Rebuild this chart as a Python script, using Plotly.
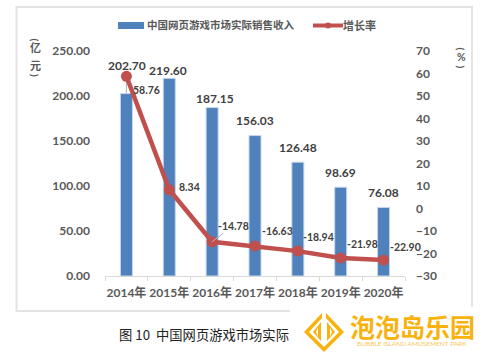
import plotly.graph_objects as go

years = ["2014年", "2015年", "2016年", "2017年", "2018年", "2019年", "2020年"]
revenue = [202.70, 219.60, 187.15, 156.03, 126.48, 98.69, 76.08]
growth = [58.76, 8.34, -14.78, -16.63, -18.94, -21.98, -22.90]
left_ticks = [0, 50, 100, 150, 200, 250]
right_ticks = [-30, -20, -10, 0, 10, 20, 30, 40, 50, 60, 70]
series_names = ["中国网页游戏市场实际销售收入", "增长率"]

W, H = 490, 357
L, R, T, B = 105, 405, 51, 276
FONT = "Lato, 'Noto Sans CJK SC', sans-serif"
CJK = "'Noto Sans CJK SC', sans-serif"
TXT = "#595959"
DARK = "#404040"
ORANGE = "#f9b10b"
BLUE = "#4f81bd"
RED = "#c0504d"

def px(x): return (x - L) / (R - L)
def py(y): return (B - y) / (B - T)

fig = go.Figure()
fig.add_trace(go.Bar(x=years, y=revenue, name=series_names[0], width=0.28,
                     marker=dict(color=BLUE, line=dict(color="#c6d6ea", width=1)), yaxis="y"))
fig.add_trace(go.Scatter(x=years, y=growth, name=series_names[1], mode="lines+markers", yaxis="y2",
                         line=dict(color=RED, width=4.5),
                         marker=dict(color=RED, size=11)))

def rect(x0, x1, y0, y1, **kw):
    return dict(type="rect", xref="paper", yref="paper", x0=px(x0), x1=px(x1), y0=py(y1), y1=py(y0), **kw)

shapes = []
shapes.append(rect(16.5, 472, 7, 311, line=dict(color="#e4e4e4", width=2), fillcolor="rgba(0,0,0,0)", layer="below"))
shapes.append(rect(290, 490, 307, 357, line=dict(width=0), fillcolor="white", layer="below"))
shapes.append(dict(type="line", xref="x", yref="y", x0=years[0], x1=years[0], y0=revenue[0],
                   y1=(growth[0] + 30) * 2.5, line=dict(color="#b5b5b5", width=1), layer="below"))
# legend keys
shapes.append(rect(118, 144, 22, 29, line=dict(width=0), fillcolor=BLUE, layer="above"))
shapes.append(dict(type="line", xref="paper", yref="paper", x0=px(313), x1=px(343), y0=py(25.5), y1=py(25.5),
                   line=dict(color=RED, width=4), layer="above"))
shapes.append(dict(type="circle", xref="paper", yref="paper", x0=px(325), x1=px(331), y0=py(28.5), y1=py(22.5),
                   line=dict(width=0), fillcolor=RED, layer="above"))

def poly(pts, color=ORANGE):
    d = "M" + " L".join(f"{px(x):.4f},{py(y):.4f}" for x, y in pts) + " Z"
    return dict(type="path", xref="paper", yref="paper", path=d, fillcolor=color, line=dict(width=0), layer="above")

shapes.append(poly([(322, 313), (322, 318), (309, 332), (324, 347), (339, 332), (326, 318), (326, 313),
                    (344, 332), (324, 352), (304, 332)]))
shapes.append(poly([(321, 322), (321, 341), (313, 332)]))
shapes.append(poly([(327, 322), (327, 341), (335, 332)]))
shapes.append(poly([(318, 327), (318, 337), (316, 332)], color="white"))
shapes.append(poly([(330, 327), (330, 337), (332, 332)], color="white"))

ann = []
def label(x, y, text, yref="y", xs=0, ys=0, size=12, **kw):
    ann.append(dict(x=x, y=y, xref="x", yref=yref, text=text, showarrow=False, xshift=xs, yshift=ys,
                    xanchor="center", yanchor="middle",
                    font=dict(family=FONT, size=size, color=DARK), **kw))

rev_offsets = [(1, 28), (-1, 8), (3, 9), (0, 15), (0, 15), (0, 15), (0, 15)]
for yr, v, (xs, ys) in zip(years, revenue, rev_offsets):
    label(yr, v, f"<b>{v:.2f}</b>", xs=xs, ys=ys, size=12)

g_offsets = [(20, -14), (20, 3), None, (22, 15), (21, 14), (22, 14), (22, 13)]
for yr, v, off in zip(years, growth, g_offsets):
    if off is None:
        continue
    label(yr, v, f"<b>{v:.2f}</b>", yref="y2", xs=off[0], ys=off[1], size=10.5)
ann.append(dict(x=years[2], y=growth[2], xref="x", yref="y2", text=f"<b>{growth[2]:.2f}</b>", showarrow=True,
                arrowhead=0, arrowwidth=1, arrowcolor="#b5b5b5", ax=21, ay=-16,
                font=dict(family=FONT, size=10.5, color=DARK)))

def free(x, y, text, size, color=TXT, family=CJK, **kw):
    ann.append(dict(x=px(x), y=py(y), xref="paper", yref="paper", text=text, showarrow=False,
                    xanchor="center", yanchor="middle",
                    font=dict(family=family, size=size, color=color), **kw))

free(35, 39.5, "<b>(</b>", 10, family=FONT, textangle=90)
free(35, 47, "<b>亿</b>", 11)
free(35, 65, "<b>元</b>", 11)
free(35, 75, "<b>)</b>", 10, family=FONT, textangle=90)
free(461, 48.5, "<b>(</b>", 10, family=FONT, textangle=90)
free(461, 57, "<b>%</b>", 10.5, family=FONT)
free(461, 66.5, "<b>)</b>", 10, family=FONT, textangle=90)
free(220.5, 25, f"<b>{series_names[0]}</b>", 10.5)
free(359.5, 25, f"<b>{series_names[1]}</b>", 11)
free(204, 334, "图 10  中国网页游戏市场实际", 13.3, color="#222222")
free(412.5, 325.5, "<b>泡泡岛乐园</b>", 25, color=ORANGE)
free(412, 343, "BUBBLE ISLAND AMUSEMENT PARK", 6.5, color="#f8c65a", family="Lato, sans-serif")

fig.update_layout(
    width=W, height=H, autosize=False,
    margin=dict(l=L, r=W - R, t=T, b=H - B, pad=0, autoexpand=False),
    paper_bgcolor="white", plot_bgcolor="rgba(0,0,0,0)",
    bargap=0.7,
    showlegend=False,
    xaxis=dict(type="category", categoryorder="array", categoryarray=years, range=[-0.5, 6.5],
               showgrid=False, showline=True,
               linecolor="#d9d9d9", linewidth=1, ticks="outside", ticklen=4, tickcolor="#d9d9d9",
               tickson="boundaries", tickangle=0, automargin=False, ticklabelstandoff=6,
               tickfont=dict(family=FONT, size=12, color=TXT, weight="bold")),
    yaxis=dict(range=[0, 250], tickvals=left_ticks, ticktext=[f"{v:.2f}" for v in left_ticks],
               showgrid=False, zeroline=False, showline=False, ticks="", ticklabelstandoff=14,
               automargin=False,
               tickfont=dict(family=FONT, size=12, color=TXT, weight="bold")),
    yaxis2=dict(range=[-30, 70], overlaying="y", side="right", tickvals=right_ticks, showgrid=False,
                zeroline=False, showline=False, ticks="", ticklabelstandoff=10, automargin=False,
                tickformat="d", tickfont=dict(family=FONT, size=12, color=TXT, weight="bold")),
    shapes=shapes, annotations=ann,
)
fig.write_html("out.html", config={"displayModeBar": False},
               post_script="document.body.style.margin='0';document.body.style.overflow='hidden';")
